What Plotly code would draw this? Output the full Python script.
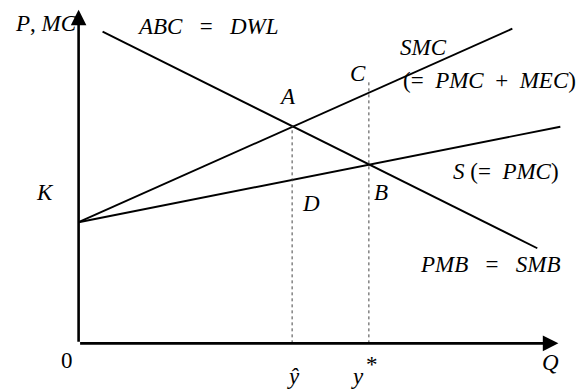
import plotly.graph_objects as go

# Data, Q on x, P on y (0-100 scale)
K = 36.3
smc_q = [0, 90.4]
smc_p = [K, 94.3]
pmc_q = [0, 100.4]
pmc_p = [K, 64.9]
pmb_q = [5.0, 95.6]
pmb_p = [93.4, 28.5]
y_hat = 44.5
A_p = 65.2
y_star = 60.5
B_p = 53.8
C_top = 79.0

W, H = 586, 391
ML, MR, MT, MB = 69, 18, 3, 41

def paper_x(px):
    return (px - ML) / (W - ML - MR)

def paper_y(py):
    return (H - MB - py) / (H - MT - MB)

fig = go.Figure()
line = dict(color="black", width=1.9)
fig.add_trace(go.Scatter(x=smc_q, y=smc_p, mode="lines", line=line))
fig.add_trace(go.Scatter(x=pmc_q, y=pmc_p, mode="lines", line=line))
fig.add_trace(go.Scatter(x=pmb_q, y=pmb_p, mode="lines", line=line))
dot = dict(color="#444", width=1, dash="dot")
fig.add_trace(go.Scatter(x=[y_hat, y_hat], y=[0, A_p], mode="lines", line=dot))
fig.add_trace(go.Scatter(x=[y_star, y_star], y=[0, C_top], mode="lines", line=dot))

# Axes with arrows
for (x, y, ax, ay) in [(0, 100, 0, 0), (100, 0, 0, 0)]:
    fig.add_annotation(x=x, y=y, ax=ax, ay=ay, xref="x", yref="y", axref="x", ayref="y",
                       showarrow=True, arrowhead=2, arrowsize=1.2, arrowwidth=2.6,
                       arrowcolor="black", text="")

font = dict(family="Liberation Serif", size=23, color="black")
S = "\u00a0"
labels = [
    ("<i>P</i>," + S + "<i>MC</i>", 46, 23, "middle"),
    ("<i>ABC</i>" + S * 3 + "=" + S * 3 + "<i>DWL</i>", 208, 27, "middle"),
    ("<i>SMC</i>", 423, 47, "middle"),
    ("(=" + S * 2 + "<i>PMC</i>" + S * 2 + "+" + S * 2 + "<i>MEC</i>)", 489, 80, "middle"),
    ("<i>C</i>", 358, 73, "middle"),
    ("<i>A</i>", 287, 97, "middle"),
    ("<i>S</i>" + S + "(=" + S * 2 + "<i>PMC</i>)", 506, 171, "middle"),
    ("<i>B</i>", 381, 192, "middle"),
    ("<i>D</i>", 311, 204, "middle"),
    ("<i>PMB</i>" + S * 3 + "=" + S * 3 + "<i>SMB</i>", 490, 264, "middle"),
    ("<i>K</i>", 45, 192, "middle"),
    ("0", 67, 361, "middle"),
    ("<i>Q</i>", 550, 362, "middle"),
    ("*", 372, 364, "middle"),
    ("<i>ŷ</i>", 293, 391, "bottom"),
    ("<i>y</i>", 357, 391, "bottom"),
]
for t, px, pyv, ya in labels:
    fig.add_annotation(x=paper_x(px), y=paper_y(pyv), xref="paper", yref="paper", text=t,
                       showarrow=False, font=font, xanchor="center", yanchor=ya)

fig.update_layout(
    width=W, height=H,
    margin=dict(l=ML, r=MR, t=MT, b=MB),
    paper_bgcolor="white", plot_bgcolor="white",
    showlegend=False,
    xaxis=dict(range=[-2, 102], visible=False),
    yaxis=dict(range=[-2, 102], visible=False),
)
fig.write_html("out.html", post_script="document.body.style.margin='0';",
               config={"displayModeBar": False})
